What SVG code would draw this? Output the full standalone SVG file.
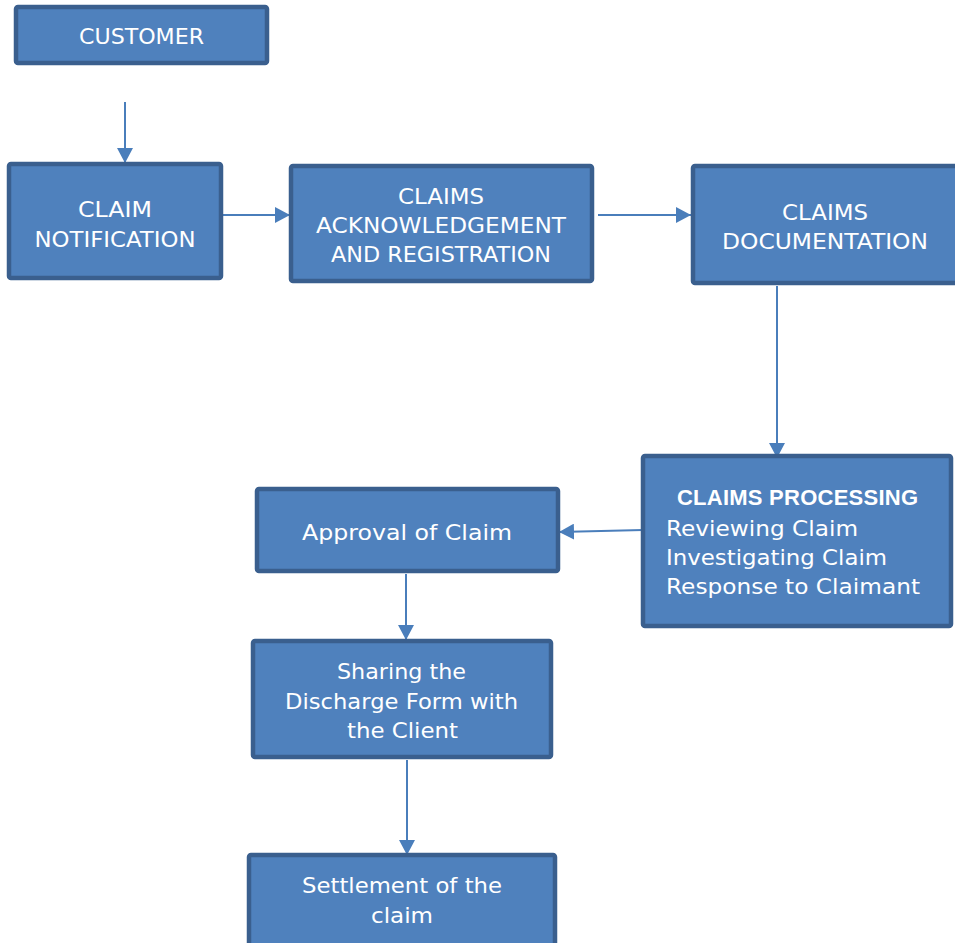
<svg xmlns="http://www.w3.org/2000/svg" width="955" height="943" viewBox="0 0 955 943">
<style>
.box{fill:#4f81bd;stroke:#3a5f8e;stroke-width:4.5}
.t{font-family:"DejaVu Sans","Liberation Sans",sans-serif;font-size:22px;fill:#ffffff;text-anchor:middle}
.l{text-anchor:start}
.b{font-family:"Liberation Sans",Arial,sans-serif;font-weight:bold}
.c{stroke:#4a7ebb;stroke-width:2;fill:none}
</style>
<defs>
<marker id="ah" markerUnits="userSpaceOnUse" markerWidth="16" markerHeight="16" refX="15" refY="8" orient="auto">
<path d="M0,0 L15,8 L0,16 Z" fill="#4a7ebb"/>
</marker>
</defs>
<rect width="955" height="943" fill="#ffffff"/>
<g id="connectors">
<line class="c" x1="125" y1="102" x2="125" y2="163" marker-end="url(#ah)"/>
<line class="c" x1="223" y1="215" x2="290" y2="215" marker-end="url(#ah)"/>
<line class="c" x1="598" y1="215" x2="691" y2="215" marker-end="url(#ah)"/>
<line class="c" x1="777" y1="286" x2="777" y2="458" marker-end="url(#ah)"/>
<line class="c" x1="643" y1="530" x2="559" y2="532" marker-end="url(#ah)"/>
<line class="c" x1="406" y1="574" x2="406" y2="640" marker-end="url(#ah)"/>
<line class="c" x1="407" y1="760" x2="407" y2="855" marker-end="url(#ah)"/>
</g>
<g id="customer">
<rect class="box" x="16" y="7" width="251" height="56" rx="2"/>
<text class="t" x="141.5" y="44" textLength="125" lengthAdjust="spacingAndGlyphs">CUSTOMER</text>
</g>
<g id="claim-notification">
<rect class="box" x="9" y="164" width="212" height="114" rx="2"/>
<text class="t" x="115" y="217" textLength="74" lengthAdjust="spacingAndGlyphs">CLAIM</text>
<text class="t" x="115" y="247" textLength="161" lengthAdjust="spacingAndGlyphs">NOTIFICATION</text>
</g>
<g id="claims-acknowledgement">
<rect class="box" x="291" y="166" width="301" height="115" rx="2"/>
<text class="t" x="441" y="204" textLength="86" lengthAdjust="spacingAndGlyphs">CLAIMS</text>
<text class="t" x="441" y="233" textLength="250" lengthAdjust="spacingAndGlyphs">ACKNOWLEDGEMENT</text>
<text class="t" x="441" y="262" textLength="220" lengthAdjust="spacingAndGlyphs">AND REGISTRATION</text>
</g>
<g id="claims-documentation">
<rect class="box" x="693" y="166" width="270" height="117" rx="2"/>
<text class="t" x="825" y="220" textLength="86" lengthAdjust="spacingAndGlyphs">CLAIMS</text>
<text class="t" x="825" y="249" textLength="206" lengthAdjust="spacingAndGlyphs">DOCUMENTATION</text>
</g>
<g id="claims-processing">
<rect class="box" x="643" y="456" width="308" height="170" rx="2"/>
<text class="t b" x="797.5" y="505" textLength="241">CLAIMS PROCESSING</text>
<text class="t l" x="666" y="536" textLength="192" lengthAdjust="spacingAndGlyphs">Reviewing Claim</text>
<text class="t l" x="666" y="565" textLength="221" lengthAdjust="spacingAndGlyphs">Investigating Claim</text>
<text class="t l" x="666" y="594" textLength="254" lengthAdjust="spacingAndGlyphs">Response to Claimant</text>
</g>
<g id="approval">
<rect class="box" x="257" y="489" width="301" height="82" rx="2"/>
<text class="t" x="407" y="540" textLength="210" lengthAdjust="spacingAndGlyphs">Approval of Claim</text>
</g>
<g id="sharing">
<rect class="box" x="253" y="641" width="298" height="116" rx="2"/>
<text class="t" x="401.5" y="679" textLength="129" lengthAdjust="spacingAndGlyphs">Sharing the</text>
<text class="t" x="401.5" y="709" textLength="233" lengthAdjust="spacingAndGlyphs">Discharge Form with</text>
<text class="t" x="402.5" y="738" textLength="111" lengthAdjust="spacingAndGlyphs">the Client</text>
</g>
<g id="settlement">
<rect class="box" x="249" y="855" width="306" height="100" rx="2"/>
<text class="t" x="402" y="893" textLength="200" lengthAdjust="spacingAndGlyphs">Settlement of the</text>
<text class="t" x="402" y="923" textLength="62" lengthAdjust="spacingAndGlyphs">claim</text>
</g>
</svg>
